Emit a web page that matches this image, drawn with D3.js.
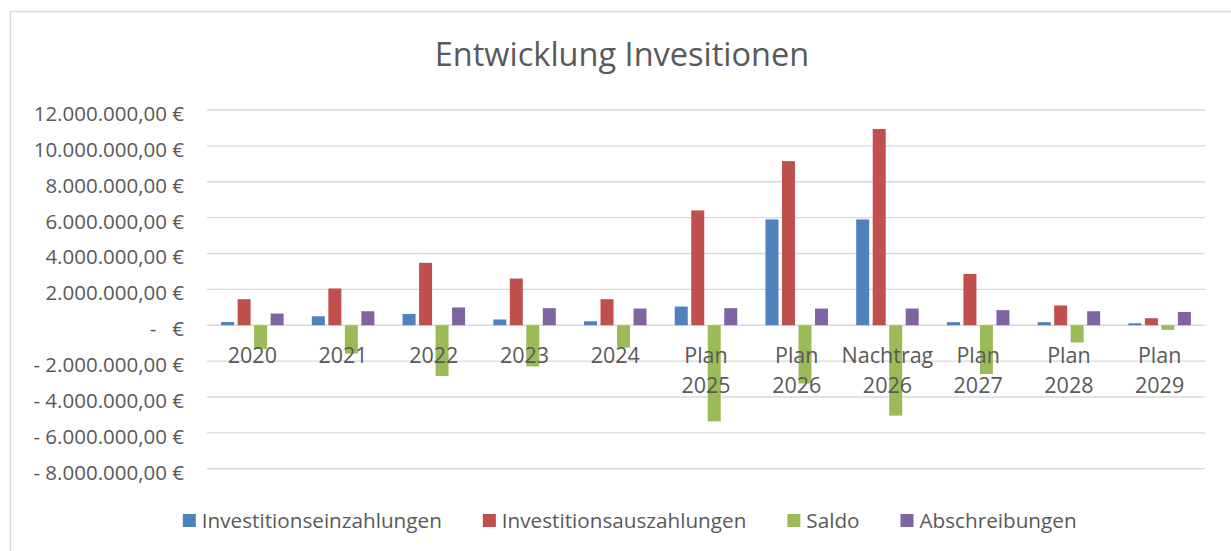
<!DOCTYPE html>
<html><head><meta charset="utf-8">
<script src="https://cdn.jsdelivr.net/npm/d3@7/dist/d3.min.js"></script>
<style>
html,body{margin:0;padding:0;background:#fff;}
svg text{font-family:"Open Sans",sans-serif;fill:#595959;}
</style></head>
<body>
<svg id="chart" width="1231" height="551"></svg>
<script>
const categories = ["2020","2021","2022","2023","2024","Plan 2025","Plan 2026","Nachtrag 2026","Plan 2027","Plan 2028","Plan 2029"];
const seriesNames = ["Investitionseinzahlungen","Investitionsauszahlungen","Saldo","Abschreibungen"];
const seriesColors = ["#4F81BD","#C0504D","#9BBB59","#8064A2"];
const einzahlungen = [180000, 500000, 630000, 320000, 220000, 1040000, 5900000, 5900000, 170000, 170000, 110000];
const auszahlungen = [1450000, 2050000, 3480000, 2600000, 1450000, 6400000, 9150000, 10940000, 2860000, 1100000, 390000];
const saldo = [-1320000, -1580000, -2830000, -2300000, -1250000, -5360000, -3250000, -5040000, -2720000, -960000, -260000];
const abschreibungen = [650000, 780000, 990000, 950000, 930000, 950000, 930000, 930000, 840000, 780000, 740000];
const tickValues = [12000000,10000000,8000000,6000000,4000000,2000000,0,-2000000,-4000000,-6000000,-8000000];
const tickLabels = ["12.000.000,00 €","10.000.000,00 €","8.000.000,00 €","6.000.000,00 €","4.000.000,00 €","2.000.000,00 €","-   €","- 2.000.000,00 €","- 4.000.000,00 €","- 6.000.000,00 €","- 8.000.000,00 €"];
const title = "Entwicklung Invesitionen";

const series = [einzahlungen, auszahlungen, saldo, abschreibungen];
const svg = d3.select("#chart");

// chart frame
svg.append("path").attr("d","M10.5,560 V11.5 H1240").attr("fill","none").attr("stroke","#d9d9d9").attr("stroke-width",1.5);

const left = 207, right = 1205;
const x = d3.scaleBand().domain(categories).range([left, right]).padding(0);
const y = d3.scaleLinear().domain([-8000000, 12000000]).range([468.7, 110]);
const groupW = 62.5;
const xs = d3.scaleBand().domain(d3.range(4)).range([0, groupW]).paddingInner(3.5/16.5).paddingOuter(0);

// title
svg.append("text").attr("x", 622).attr("y", 66).attr("text-anchor","middle")
  .style("font-size","32.5px").text(title);

// gridlines
svg.append("g").selectAll("line").data(tickValues).join("line")
  .attr("x1", left).attr("x2", right)
  .attr("y1", d => y(d)).attr("y2", d => y(d))
  .attr("stroke", "#d9d9d9").attr("stroke-width", 1.4);

// y labels
const yAxis = d3.axisLeft(y).tickValues(tickValues).tickFormat((d,i) => tickLabels[i]).tickSize(0).tickPadding(0);
const ga = svg.append("g").attr("transform","translate(184,0)").call(yAxis);
ga.select(".domain").remove();
ga.selectAll("text").attr("fill","#595959").style("font-size","20.5px")
  .style("font-family","Open Sans").style("white-space","pre").attr("dy", null).attr("y", 10.5);

// bars
const g = svg.append("g");
series.forEach((vals, si) => {
  g.append("g").selectAll("rect").data(vals).join("rect")
    .attr("x", (d,i) => x(categories[i]) + x.bandwidth()/2 - groupW/2 + xs(si))
    .attr("width", xs.bandwidth())
    .attr("y", d => Math.min(y(d), y(0)))
    .attr("height", d => Math.abs(y(d) - y(0)))
    .attr("fill", seriesColors[si]);
});

// category labels
const cl = svg.append("g");
categories.forEach(c => {
  const parts = c.split(" ");
  const t = cl.append("text").attr("text-anchor","middle").style("font-size","21.5px")
    .attr("x", x(c) + x.bandwidth()/2);
  parts.forEach((p, k) => {
    t.append("tspan").attr("x", x(c) + x.bandwidth()/2).attr("y", 362.7 + k*30).text(p);
  });
});

// legend
const lg = svg.append("g");
const items = seriesNames.map((n, i) => {
  const it = lg.append("g");
  it.append("rect").attr("width", 13).attr("height", 13).attr("y", -6.5).attr("fill", seriesColors[i]);
  const tx = it.append("text").attr("x", 19).attr("y", 7.8).style("font-size","20.7px").text(n);
  return {g: it, w: 19 + tx.node().getComputedTextLength()};
});
const gap = 41;
const total = d3.sum(items, d => d.w) + gap * (items.length - 1);
let cx = 629.7 - total/2;
items.forEach(it => { it.g.attr("transform", `translate(${cx},520.5)`); cx += it.w + gap; });
</script>
</body></html>
